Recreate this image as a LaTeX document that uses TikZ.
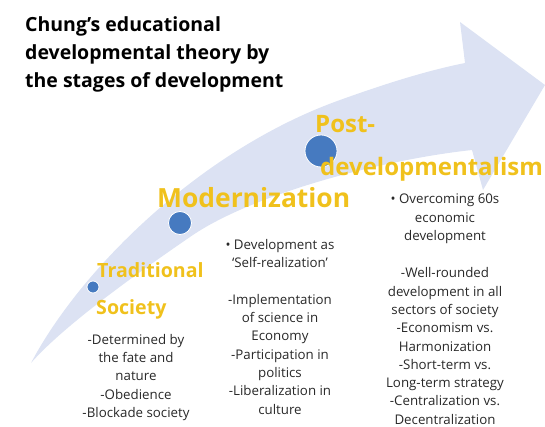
\documentclass[tikz,border=0pt]{standalone}
\usepackage{fontspec}
\setmainfont{Open Sans}
\begin{document}
\begin{tikzpicture}[x=1pt, y=-1pt,
  band/.style={fill={rgb,255:red,220;green,226;blue,243}},
  dot/.style={circle, fill={rgb,255:red,70;green,122;blue,192}, draw=white, line width=0.8pt, inner sep=0pt},
  stage/.style={inner sep=0pt, anchor=base west, text={rgb,255:red,240;green,193;blue,28},
    font=\bfseries\fontsize{24}{30}\selectfont},
  notes/.style={inner sep=0pt, anchor=north, align=center, text={rgb,255:red,40;green,40;blue,40},
    font=\fontsize{13.3}{18.3}\selectfont},
  heading/.style={inner sep=0pt, anchor=north west, align=left,
    font=\bfseries\fontsize{19.5}{28}\selectfont}]
\useasboundingbox (0,0) rectangle (545,427);

% curved arrow band
\path[band] (31,363) .. controls (80,270) and (200,150) .. (340,100)
  .. controls (390,82) and (430,70) .. (465,63) -- (460,22) -- (545,85) -- (483,190) -- (472,150)
  .. controls (380,160) and (250,195) .. (190,237)
  .. controls (120,285) and (60,330) .. (31,363) -- cycle;

% title
\node[heading] (title) at (25,16) {Chung’s educational\\developmental theory by\\the stages of development};

% stage markers
\node[dot, minimum size=12pt] (c1) at (93,287) {};
\node[dot, minimum size=23pt] (c2) at (180,223) {};
\node[dot, minimum size=32pt] (c3) at (321,151) {};

% stage names
\node[stage, font=\bfseries\fontsize{19.6}{24}\selectfont] (trad) at (97,277) {Traditional};
\node[stage, font=\bfseries\fontsize{19.6}{24}\selectfont] (soc) at (96,314) {Society};
\node[stage, font=\bfseries\fontsize{26.4}{30}\selectfont] (mod) at (157,208) {Modernization};
\node[stage] (post) at (315,133) {Post-};
\node[stage] (devm) at (320,176) {developmentalism};

% notes under each stage
\node[notes] (n1) at (136,334) {-Determined by\\the fate and\\nature\\-Obedience\\-Blockade society};
\node[notes] (n2) at (280,239) {• Development as\\‘Self-realization’\\[18.3pt]-Implementation\\of science in\\Economy\\-Participation in\\politics\\-Liberalization in\\culture};
\node[notes] (n3) at (445,194) {• Overcoming 60s\\economic\\development\\[19pt]-Well-rounded\\development in all\\sectors of society\\-Economism vs.\\Harmonization\\-Short-term vs.\\Long-term strategy\\-Centralization vs.\\Decentralization};
\end{tikzpicture}
\end{document}
